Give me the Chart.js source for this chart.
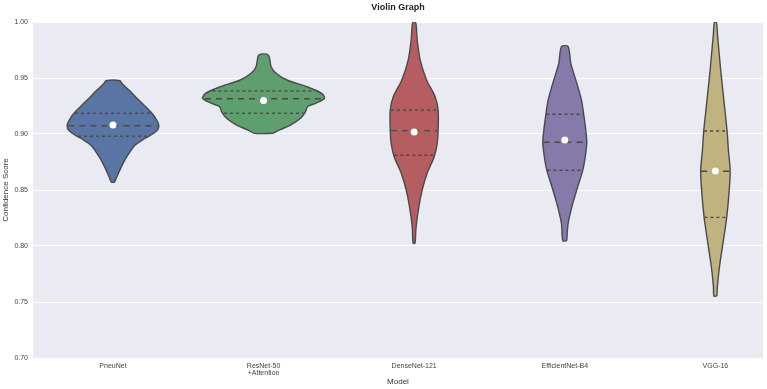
<!DOCTYPE html>
<html><head><meta charset="utf-8">
<script src="https://cdn.jsdelivr.net/npm/chart.js@4/dist/chart.umd.min.js"></script>
<style>html,body{margin:0;padding:0;background:#fff;}</style>
</head><body>
<canvas id="c" width="767" height="389"></canvas>
<script>
// ---- data ----
const categories = ['PneuNet', ['ResNet-50', '+Attention'], 'DenseNet-121', 'EfficientNet-B4', 'VGG-16'];
const yTicks = [0.70, 0.75, 0.80, 0.85, 0.90, 0.95, 1.00];

// density profile: score levels and violin half-widths (category units)
const pneuNetLevels = [0.857, 0.862, 0.870, 0.880, 0.890, 0.895, 0.8985, 0.903, 0.9074, 0.912, 0.9185, 0.925, 0.932, 0.9393, 0.945, 0.9476];
const pneuNetWidths = [0.010, 0.027, 0.053, 0.093, 0.146, 0.199, 0.246, 0.292, 0.305, 0.292, 0.259, 0.212, 0.159, 0.106, 0.060, 0.046];

const resNetLevels = [0.9006, 0.9036, 0.908, 0.914, 0.920, 0.9244, 0.9274, 0.9318, 0.9363, 0.9423, 0.948, 0.9542, 0.960, 0.9705];
const resNetWidths = [0.060, 0.106, 0.179, 0.246, 0.279, 0.292, 0.345, 0.405, 0.385, 0.286, 0.159, 0.083, 0.050, 0.031];

const denseNetLevels = [0.8024, 0.8173, 0.835, 0.850, 0.8649, 0.8797, 0.8917, 0.9036, 0.9214, 0.9333, 0.948, 0.966, 0.984, 0.9994];
const denseNetWidths = [0.007, 0.013, 0.031, 0.053, 0.086, 0.133, 0.153, 0.159, 0.159, 0.139, 0.083, 0.040, 0.020, 0.010];

const effNetLevels = [0.8047, 0.820, 0.838, 0.853, 0.8679, 0.8797, 0.8926, 0.9036, 0.917, 0.930, 0.9452, 0.9631, 0.978];
const effNetWidths = [0.013, 0.022, 0.053, 0.086, 0.120, 0.136, 0.146, 0.139, 0.126, 0.111, 0.080, 0.040, 0.022];

const vggLevels = [0.7554, 0.7637, 0.7815, 0.805, 0.8256, 0.847, 0.867, 0.8857, 0.902, 0.930, 0.960, 0.990, 0.9994];
const vggWidths = [0.010, 0.013, 0.027, 0.053, 0.075, 0.090, 0.098, 0.086, 0.078, 0.056, 0.033, 0.013, 0.007];

// quartiles [Q1, median, Q3] and mean markers
const lowerQuartiles = [0.898, 0.9185, 0.881, 0.8676, 0.8256];
const medians = [0.9074, 0.9315, 0.903, 0.8926, 0.8668];
const upperQuartiles = [0.9185, 0.9384, 0.9214, 0.9176, 0.9027];
const means = [0.908, 0.930, 0.9018, 0.8946, 0.867];

const colors = ['#5875A4', '#5F9E6E', '#B55D60', '#857AAA', '#C1B37F'];
// ---- end data ----

const profiles = [
  [pneuNetLevels, pneuNetWidths],
  [resNetLevels, resNetWidths],
  [denseNetLevels, denseNetWidths],
  [effNetLevels, effNetWidths],
  [vggLevels, vggWidths]
];
const OUT = '#4a4a4a';
const FONT = '"Liberation Sans", Arial, sans-serif';

function widthAt(lv, w, q) {
  for (let k = 0; k < lv.length - 1; k++) {
    if (q >= lv[k] && q <= lv[k + 1]) {
      const t = (q - lv[k]) / (lv[k + 1] - lv[k]);
      return w[k] + t * (w[k + 1] - w[k]);
    }
  }
  return 0;
}

const datasets = [];
profiles.forEach(([lv, w], i) => {
  const pts = [];
  for (let k = 0; k < lv.length; k++) pts.push({x: i + w[k], y: lv[k]});
  for (let k = lv.length - 1; k >= 0; k--) pts.push({x: i - w[k], y: lv[k]});
  pts.push({x: pts[0].x, y: pts[0].y});
  datasets.push({
    data: pts, borderColor: OUT, borderWidth: 1.4, backgroundColor: colors[i],
    fill: 'shape', tension: 0.3, pointRadius: 0, order: 3
  });
  const qs = [[lowerQuartiles[i], [3, 3]], [medians[i], [6, 5]], [upperQuartiles[i], [3, 3]]];
  qs.forEach(([q, dash]) => {
    const hw = widthAt(lv, w, q) * 0.97;
    datasets.push({
      data: [{x: i - hw, y: q}, {x: i + hw, y: q}],
      borderColor: OUT, borderWidth: 1.4, borderDash: dash, pointRadius: 0,
      fill: false, tension: 0, order: 2
    });
  });
});
datasets.push({
  data: means.map((v, i) => ({x: i, y: v})),
  showLine: false, pointRadius: 3.5, pointBackgroundColor: '#ffffff',
  pointBorderColor: '#ffffff', pointBorderWidth: 0, order: 1
});

const bgPlugin = {
  id: 'bg',
  beforeDraw(chart) {
    const {ctx, chartArea: a} = chart;
    ctx.save();
    ctx.fillStyle = '#EAEAF2';
    ctx.fillRect(a.left, a.top, a.right - a.left, a.bottom - a.top);
    ctx.restore();
  }
};

new Chart(document.getElementById('c'), {
  type: 'line',
  data: {datasets},
  plugins: [bgPlugin],
  options: {
    responsive: false,
    animation: false,
    layout: {padding: {left: 0, right: 4, top: 0, bottom: 0}},
    plugins: {
      legend: {display: false},
      tooltip: {enabled: false},
      title: {
        display: true, text: 'Violin Graph', fullSize: false,
        font: {family: FONT, size: 9, weight: 'bold'}, color: '#222',
        padding: {top: 2.5, bottom: 8.7}
      }
    },
    scales: {
      x: {
        type: 'linear', min: -0.531, max: 4.316,
        afterBuildTicks: s => { s.ticks = categories.map((_, i) => ({value: i})); },
        afterFit: s => { s.height = 31; },
        ticks: {
          callback: v => categories[v], autoSkip: false, maxRotation: 0, minRotation: 0,
          font: {family: FONT, size: 7, lineHeight: 1.1}, color: '#444', padding: 4
        },
        grid: {display: false, drawTicks: false},
        border: {display: false},
        title: {display: true, text: 'Model', font: {family: FONT, size: 8}, color: '#333', padding: {top: 0, bottom: 2}}
      },
      y: {
        min: 0.70, max: 1.00,
        afterBuildTicks: s => { s.ticks = yTicks.map(v => ({value: v})); },
        afterFit: s => { s.width = 33; },
        ticks: {
          callback: v => v.toFixed(2),
          font: {family: FONT, size: 7}, color: '#444', padding: 5
        },
        grid: {color: '#ffffff', lineWidth: 1, drawTicks: false},
        border: {display: false},
        title: {display: true, text: 'Confidence Score', font: {family: FONT, size: 8}, color: '#333', padding: {top: 1, bottom: 0}}
      }
    }
  }
});
</script>
</body></html>
